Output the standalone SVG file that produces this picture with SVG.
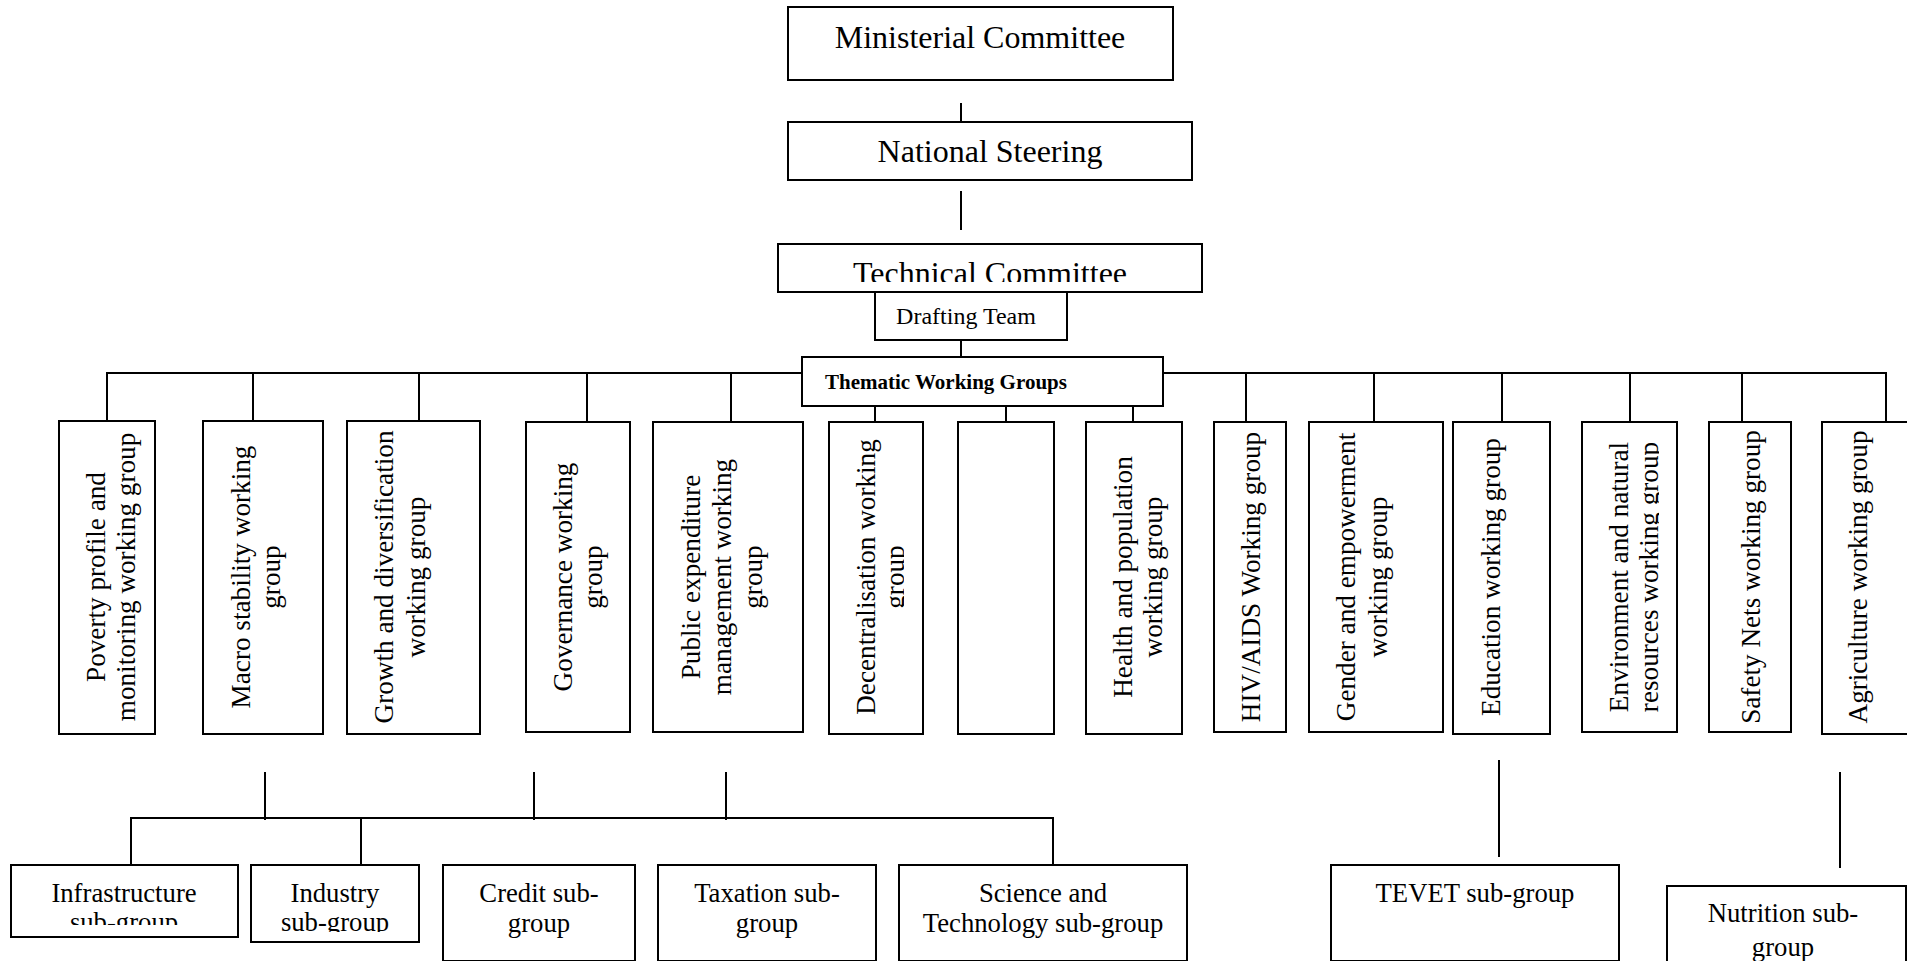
<svg xmlns="http://www.w3.org/2000/svg" width="1907" height="961" viewBox="0 0 1907 961">
<style>
.box{fill:#fff;stroke:#000;stroke-width:2}
.ln{stroke:#000;stroke-width:2;fill:none}
.t32{font-family:"Liberation Serif","Times New Roman",serif;font-size:32px;fill:#000;text-anchor:middle}
.t26{font-family:"Liberation Serif","Times New Roman",serif;font-size:26.7px;fill:#000;text-anchor:middle}
.tv{font-family:"Liberation Serif","Times New Roman",serif;font-size:27.2px;fill:#000;text-anchor:middle}
.t24{font-family:"Liberation Serif","Times New Roman",serif;font-size:24px;fill:#000;text-anchor:middle}
.tb{font-family:"Liberation Serif","Times New Roman",serif;font-size:21px;font-weight:bold;fill:#000}
</style>
<defs>
<clipPath id="cTech"><rect x="778" y="244" width="424" height="38"/></clipPath>
<clipPath id="cDec"><rect x="829" y="422" width="75" height="312"/></clipPath>
<clipPath id="cEnv"><rect x="1582" y="422" width="77" height="312"/></clipPath>
<clipPath id="cInfra"><rect x="11" y="865" width="227" height="60"/></clipPath>
<clipPath id="cInd"><rect x="251" y="865" width="168" height="67"/></clipPath>
</defs>
<rect width="1907" height="961" fill="#fff"/>
<g id="connectors">
<line class="ln" x1="961" y1="103" x2="961" y2="122"/>
<line class="ln" x1="961" y1="191" x2="961" y2="230"/>
<line class="ln" x1="961" y1="340" x2="961" y2="357"/>
<polyline class="ln" points="107,422 107,373 1886,373 1886,422"/>
<line class="ln" x1="253" y1="373" x2="253" y2="422"/>
<line class="ln" x1="419" y1="373" x2="419" y2="422"/>
<line class="ln" x1="587" y1="373" x2="587" y2="422"/>
<line class="ln" x1="731" y1="373" x2="731" y2="422"/>
<line class="ln" x1="1246" y1="373" x2="1246" y2="422"/>
<line class="ln" x1="1374" y1="373" x2="1374" y2="422"/>
<line class="ln" x1="1502" y1="373" x2="1502" y2="422"/>
<line class="ln" x1="1630" y1="373" x2="1630" y2="422"/>
<line class="ln" x1="1742" y1="373" x2="1742" y2="422"/>
<line class="ln" x1="875" y1="406" x2="875" y2="422"/>
<line class="ln" x1="1006" y1="406" x2="1006" y2="422"/>
<line class="ln" x1="1133" y1="406" x2="1133" y2="422"/>
<line class="ln" x1="265" y1="772" x2="265" y2="820"/>
<line class="ln" x1="534" y1="772" x2="534" y2="820"/>
<line class="ln" x1="726" y1="772" x2="726" y2="820"/>
<polyline class="ln" points="131,865 131,818 1053,818 1053,865"/>
<line class="ln" x1="361" y1="818" x2="361" y2="865"/>
<line class="ln" x1="1499" y1="760" x2="1499" y2="857"/>
<line class="ln" x1="1840" y1="772" x2="1840" y2="868"/>
</g>
<g id="ministerial"><rect class="box" x="788" y="7" width="385" height="73"/><text class="t32" x="980" y="48">Ministerial Committee</text></g>
<g id="national"><rect class="box" x="788" y="122" width="404" height="58"/><text class="t32" x="990" y="162">National Steering</text></g>
<g id="technical"><rect class="box" x="778" y="244" width="424" height="48"/><g clip-path="url(#cTech)"><text class="t32" x="990" y="284">Technical Committee</text></g></g>
<g id="drafting"><rect class="box" x="875" y="292" width="192" height="48"/><text class="t24" x="966" y="324">Drafting Team</text></g>
<g id="thematic"><rect class="box" x="802" y="357" width="361" height="49"/><text class="tb" x="825" y="389">Thematic Working Groups</text></g>

<g id="poverty"><rect class="box" x="59" y="421" width="96" height="313"/>
<text class="tv" transform="translate(105 577) rotate(-90)">Poverty profile and</text>
<text class="tv" transform="translate(135 577) rotate(-90)">monitoring  working group</text></g>
<g id="macro"><rect class="box" x="203" y="421" width="120" height="313"/>
<text class="tv" transform="translate(250 577) rotate(-90)">Macro stability working</text>
<text class="tv" transform="translate(280 577) rotate(-90)">group</text></g>
<g id="growth"><rect class="box" x="347" y="421" width="133" height="313"/>
<text class="tv" transform="translate(393 577) rotate(-90)">Growth and diversification</text>
<text class="tv" transform="translate(425 577) rotate(-90)">working group</text></g>
<g id="governance"><rect class="box" x="526" y="422" width="104" height="310"/>
<text class="tv" transform="translate(572 577) rotate(-90)">Governance working</text>
<text class="tv" transform="translate(602 577) rotate(-90)">group</text></g>
<g id="public"><rect class="box" x="653" y="422" width="150" height="310"/>
<text class="tv" transform="translate(700 577) rotate(-90)">Public expenditure</text>
<text class="tv" transform="translate(731 577) rotate(-90)">management working</text>
<text class="tv" transform="translate(762 577) rotate(-90)">group</text></g>
<g id="decentralisation"><rect class="box" x="829" y="422" width="94" height="312"/>
<text class="tv" transform="translate(875 577) rotate(-90)">Decentralisation working</text>
<g clip-path="url(#cDec)"><text class="tv" transform="translate(904 577) rotate(-90)">group</text></g></g>
<g id="empty"><rect class="box" x="958" y="422" width="96" height="312"/></g>
<g id="health"><rect class="box" x="1086" y="422" width="96" height="312"/>
<text class="tv" transform="translate(1132 577) rotate(-90)">Health and population</text>
<text class="tv" transform="translate(1162 577) rotate(-90)">working group</text></g>
<g id="hiv"><rect class="box" x="1214" y="422" width="72" height="310"/>
<text class="tv" transform="translate(1260 577) rotate(-90)">HIV/AIDS Working group</text></g>
<g id="gender"><rect class="box" x="1309" y="422" width="134" height="310"/>
<text class="tv" transform="translate(1355 577) rotate(-90)">Gender and empowerment</text>
<text class="tv" transform="translate(1387 577) rotate(-90)">working group</text></g>
<g id="education"><rect class="box" x="1453" y="422" width="97" height="312"/>
<text class="tv" transform="translate(1500 577) rotate(-90)">Education working group</text></g>
<g id="environment"><rect class="box" x="1582" y="422" width="95" height="310"/>
<text class="tv" transform="translate(1628 577) rotate(-90)">Environment and natural</text>
<g clip-path="url(#cEnv)"><text class="tv" transform="translate(1658 577) rotate(-90)">resources working group</text></g></g>
<g id="safety"><rect class="box" x="1709" y="422" width="82" height="310"/>
<text class="tv" transform="translate(1760 577) rotate(-90)">Safety Nets working group</text></g>
<g id="agriculture"><rect class="box" x="1822" y="422" width="100" height="312"/>
<text class="tv" transform="translate(1867 577) rotate(-90)">Agriculture working group</text></g>

<g id="infrastructure"><rect class="box" x="11" y="865" width="227" height="72"/>
<text class="t26" x="124" y="902">Infrastructure</text>
<g clip-path="url(#cInfra)"><text class="t26" x="124" y="931">sub-group</text></g></g>
<g id="industry"><rect class="box" x="251" y="865" width="168" height="77"/>
<text class="t26" x="335" y="902">Industry</text>
<g clip-path="url(#cInd)"><text class="t26" x="335" y="931">sub-group</text></g></g>
<g id="credit"><rect class="box" x="443" y="865" width="192" height="96"/>
<text class="t26" x="539" y="902">Credit sub-</text><text class="t26" x="539" y="932">group</text></g>
<g id="taxation"><rect class="box" x="658" y="865" width="218" height="96"/>
<text class="t26" x="767" y="902">Taxation sub-</text><text class="t26" x="767" y="932">group</text></g>
<g id="science"><rect class="box" x="899" y="865" width="288" height="96"/>
<text class="t26" x="1043" y="902">Science and</text><text class="t26" x="1043" y="932">Technology sub-group</text></g>
<g id="tevet"><rect class="box" x="1331" y="865" width="288" height="96"/>
<text class="t26" x="1475" y="902">TEVET sub-group</text></g>
<g id="nutrition"><rect class="box" x="1667" y="886" width="239" height="80"/>
<text class="t26" x="1783" y="922">Nutrition sub-</text><text class="t26" x="1783" y="956">group</text></g>
</svg>
